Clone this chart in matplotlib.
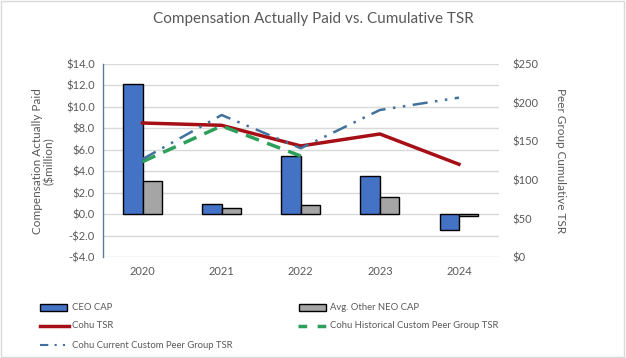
import matplotlib
matplotlib.use("Agg")
import matplotlib.pyplot as plt
import numpy as np
from matplotlib.patches import Rectangle
from matplotlib.lines import Line2D

years = ["2020", "2021", "2022", "2023", "2024"]
ceo_cap = [12.1, 0.93, 5.4, 3.54, -1.49]
neo_cap = [3.07, 0.56, 0.84, 1.58, -0.16]
cohu_tsr = [173.7, 170.7, 144.0, 159.5, 120.3]
hist_peer_tsr = [123.7, 169.9, 131.0]
curr_peer_tsr = [127.0, 184.0, 141.0, 190.5, 206.5]

left_ticks = [-4, -2, 0, 2, 4, 6, 8, 10, 12, 14]
right_ticks = [0, 50, 100, 150, 200, 250]

plt.rcParams['font.family'] = ['Lato', 'DejaVu Sans']
tick_col = "#595959"

fig = plt.figure(figsize=(6.26, 3.58), dpi=100)
# border
fig.patches.append(Rectangle((0.002, 0.003), 0.995, 0.993, transform=fig.transFigure,
                             fill=False, edgecolor="#d9d9d9", linewidth=1))

ax = fig.add_axes([103/626, 1-257.3/358, (498.5-103)/626, (257.3-64)/358])
x = np.arange(len(years))
w = 0.245
ax.bar(x - w/2, ceo_cap, w, color="#4472c4", edgecolor="black", linewidth=1, zorder=3)
ax.bar(x + w/2, neo_cap, w, color="#a5a5a5", edgecolor="black", linewidth=1, zorder=3)
ax.set_xlim(-0.5, 4.5)
ax.set_ylim(-4, 14)
ax.set_yticks(left_ticks)
ax.set_yticklabels([f"-${-v:.1f}" if v < 0 else f"${v:.1f}" for v in left_ticks],
                   color=tick_col, fontsize=8)
ax.set_xticks(x)
ax.set_xticklabels(years, color=tick_col, fontsize=8)
ax.tick_params(axis='both', length=0, pad=6)
ax.grid(axis='y', color="#d9d9d9", linewidth=1, zorder=0)
for s in ["top", "right", "bottom"]:
    ax.spines[s].set_visible(False)
ax.spines["left"].set_color("#5b7c99")
ax.spines["left"].set_linewidth(1)
ax.set_ylabel("Compensation Actually Paid\n($million)", color=tick_col, fontsize=8.5,
              labelpad=8, linespacing=1.1)

ax2 = ax.twinx()
ax2.set_ylim(0, 250)
ax2.set_yticks(right_ticks)
ax2.set_yticklabels([f"${v}" for v in right_ticks], color=tick_col, fontsize=8)
ax2.tick_params(axis='y', length=0, pad=10)
for s in ["top", "right", "bottom", "left"]:
    ax2.spines[s].set_visible(False)
ax2.plot(x, cohu_tsr, color="#a50f15", linewidth=2.5, zorder=4)
ax2.plot(x[:len(hist_peer_tsr)], hist_peer_tsr, color="#2ca05a", linewidth=2.5,
         dashes=(4, 2.5), zorder=5)
ax2.plot(x, curr_peer_tsr, color="#41719c", linewidth=1.8,
         dashes=(6, 3, 1, 3, 1, 3), zorder=6)
ax2.set_ylabel("Peer Group Cumulative TSR", color=tick_col, fontsize=8.5, rotation=-90, labelpad=20)

fig.text(0.5, 1-19/358, "Compensation Actually Paid vs. Cumulative TSR", ha="center", va="center",
         fontsize=11, color="#595959")

# legend
handles = [
    Rectangle((0, 0), 1, 1, facecolor="#4472c4", edgecolor="black"),
    Rectangle((0, 0), 1, 1, facecolor="#a5a5a5", edgecolor="black"),
    Line2D([], [], color="#a50f15", linewidth=2.5),
    Line2D([], [], color="#2ca05a", linewidth=2.5, dashes=(2, 2.5)),
    Line2D([], [], color="#41719c", linewidth=1.5, dashes=(4, 3, 1, 3, 1, 3)),
]
labels = ["CEO CAP", "Avg. Other NEO CAP", "Cohu TSR",
          "Cohu Historical Custom Peer Group TSR", "Cohu Current Custom Peer Group TSR"]
pos = [(40, 307), (298, 307), (40, 326), (298, 326), (40, 345)]
for h, l, (px, py) in zip(handles, labels, pos):
    fx, fy = px/626, 1-py/358
    if isinstance(h, Rectangle):
        fig.patches.append(Rectangle((fx+0.5/626, fy-3.5/358), 27/626, 7/358, transform=fig.transFigure,
                                     facecolor=h.get_facecolor(), edgecolor="black", linewidth=1))
    else:
        ln = Line2D([fx, fx+29/626], [fy, fy], transform=fig.transFigure,
                    color=h.get_color(), linewidth=h.get_linewidth())
        if l.startswith("Cohu Historical"):
            ln.set_dashes((2.5, 3))
        elif l.startswith("Cohu Current"):
            ln.set_dashes((4, 3, 1, 3, 1, 3))
        fig.lines.append(ln)
    fig.text(fx + 32/626, fy, l, ha="left", va="center", fontsize=6.8, color=tick_col)

fig.savefig("out.png", dpi=100)
